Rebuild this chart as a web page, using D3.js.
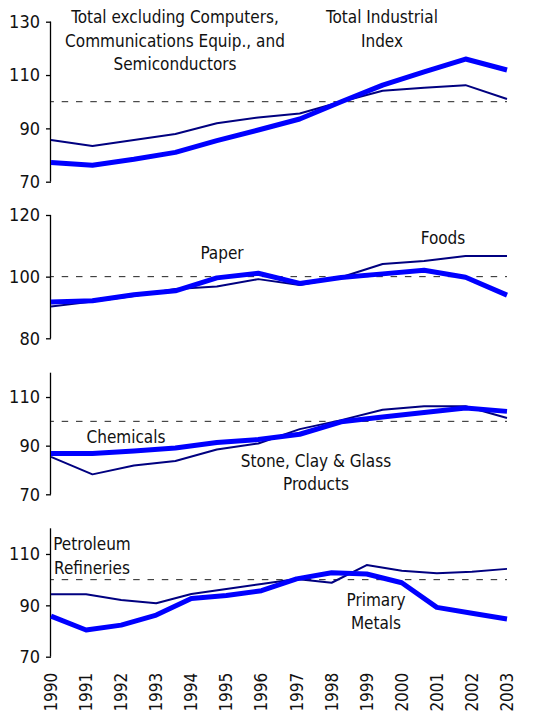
<!DOCTYPE html>
<html>
<head>
<meta charset="utf-8">
<script src="https://cdn.jsdelivr.net/npm/d3@7/dist/d3.min.js"></script>
<style>
html,body{margin:0;padding:0;background:#fff;}
svg{display:block;}
text{font-family:"DejaVu Sans Condensed","DejaVu Sans",sans-serif;fill:#111;}
</style>
</head>
<body>
<svg id="chart" width="555" height="719"></svg>
<script>
// ---- Data ----
const years = ["1990","1991","1992","1993","1994","1995","1996","1997","1998","1999","2000","2001","2002","2003"];
const points12 = d3.range(12);
const points14 = d3.range(14);

const totalExclComputers = [85.6,83.4,85.6,87.9,91.9,94.1,95.6,100.0,104.1,105.2,106.2,101.0];
const totalIndustrial    = [77.2,76.2,78.4,81.0,85.4,89.4,93.5,100.0,106.2,111.2,116.0,111.9];

const foods = [90.3,91.9,93.7,96.0,96.8,99.2,97.3,99.8,104.1,105.1,106.7,106.7];
const paper = [91.8,92.2,94.1,95.4,99.6,101.1,97.8,99.7,100.9,102.1,99.8,94.0];

const stoneClayGlass = [85.4,78.2,81.8,83.7,88.4,90.9,96.8,100.5,104.8,106.2,106.2,101.4];
const chemicals      = [86.8,86.8,87.8,89.0,91.3,92.5,94.7,99.8,101.8,103.6,105.5,104.1];

const petroleum     = [94.3,94.3,92.1,90.8,94.4,96.4,98.3,100.3,98.8,105.7,103.5,102.5,103.1,104.2];
const primaryMetals = [85.8,80.4,82.3,86.2,92.7,93.8,95.7,100.3,102.7,102.2,98.8,89.2,86.9,84.7];

const ticks1 = [70,90,110,130];
const ticks2 = [80,100,120];
const ticks3 = [70,90,110];
const ticks4 = [70,90,110];

// ---- Layout ----
const svg = d3.select("#chart");
const X0 = 51, X1 = 507;
const fontSize = 17;

const panels = [
  {domain:[70,130], top:21.7, bottom:181.7, ticks:ticks1, idx:points12,
   thin:totalExclComputers, thick:totalIndustrial,
   labels:[
     {lines:["Total excluding Computers,","Communications Equip., and","Semiconductors"], x:175, y:23.3},
     {lines:["Total Industrial","Index"], x:382, y:23.3}
   ]},
  {domain:[80,120], top:215, bottom:338.3, ticks:ticks2, idx:points12,
   thin:foods, thick:paper,
   labels:[
     {lines:["Paper"], x:222, y:259},
     {lines:["Foods"], x:443, y:244.3}
   ]},
  {domain:[70,120], top:372.7, bottom:494.3, ticks:ticks3, idx:points12,
   thin:stoneClayGlass, thick:chemicals,
   labels:[
     {lines:["Chemicals"], x:126, y:443.3},
     {lines:["Stone, Clay & Glass","Products"], x:316, y:466.7}
   ]},
  {domain:[70,120], top:528.3, bottom:656.7, ticks:ticks4, idx:points14,
   thin:petroleum, thick:primaryMetals,
   labels:[
     {lines:["Petroleum","Refineries"], x:92, y:550},
     {lines:["Primary","Metals"], x:376, y:605.7}
   ]}
];

panels.forEach((p, pi) => {
  const x = d3.scalePoint().domain(p.idx).range([X0, X1]);
  const y = d3.scaleLinear().domain(p.domain).range([p.bottom, p.top]);
  const g = svg.append("g");

  // y axis
  const axis = d3.axisLeft(y).tickValues(p.ticks).tickSize(5).tickPadding(6).tickFormat(d3.format("d"));
  const ag = g.append("g").attr("transform", `translate(${X0},0)`).call(axis);
  ag.select(".domain").attr("d", `M-0.5,${p.top}V${p.bottom}`).attr("stroke","#000").attr("stroke-width",1.3);
  ag.selectAll(".tick line").attr("stroke","#000").attr("stroke-width",1.3);
  ag.selectAll(".tick text").attr("font-size",18).attr("font-family",'"DejaVu Sans Condensed","DejaVu Sans",sans-serif').attr("fill","#111");

  // reference line at 100
  g.append("line")
    .attr("x1", X0).attr("x2", X1)
    .attr("y1", y(100)).attr("y2", y(100))
    .attr("stroke", "#222").attr("stroke-width", 1)
    .attr("stroke-dasharray", "6.5,7.8").attr("stroke-dashoffset", 3.6);

  const line = d3.line().x((d,i) => x(p.idx[i])).y(d => y(d));

  g.append("path").datum(p.thin).attr("d", line)
    .attr("fill","none").attr("stroke","#000080").attr("stroke-width",2).attr("stroke-linejoin","round");
  g.append("path").datum(p.thick).attr("d", line)
    .attr("fill","none").attr("stroke","#0000FF").attr("stroke-width",5).attr("stroke-linejoin","round");

  p.labels.forEach(l => {
    const t = g.append("text").attr("x", l.x).attr("y", l.y).attr("text-anchor", "middle").attr("font-size", fontSize);
    l.lines.forEach((s, k) => {
      t.append("tspan").attr("x", l.x).attr("y", l.y + k*23.5).text(s);
    });
  });

  // year labels on last panel
  if (pi === 3) {
    const xy = d3.scalePoint().domain(years).range([X0, X1]);
    g.selectAll("text.year").data(years).enter().append("text")
      .attr("class","year")
      .attr("transform", d => `translate(${xy(d)+6},${p.bottom+16}) rotate(-90)`)
      .attr("text-anchor","end")
      .attr("font-size", 17)
      .text(d => d);
  }
});
</script>
</body>
</html>
